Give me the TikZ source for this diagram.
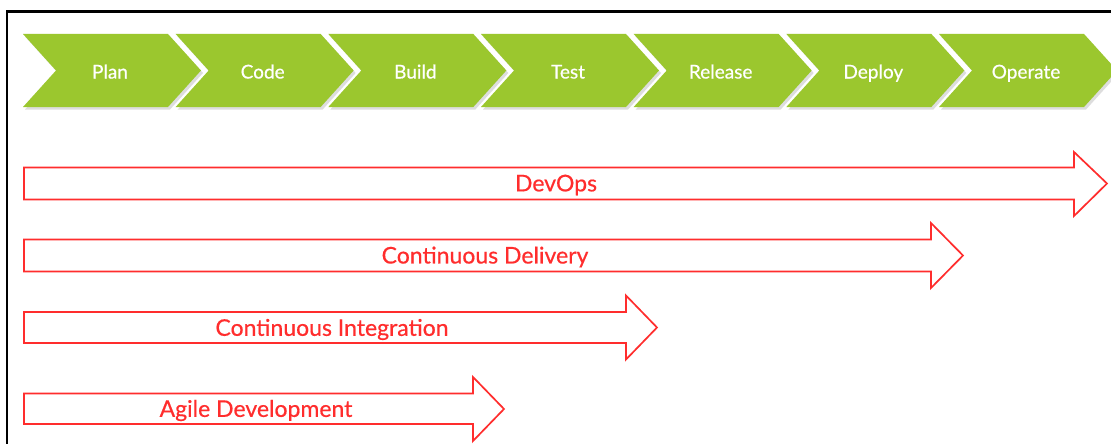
\documentclass[tikz,border=0pt]{standalone}
\usepackage{fontspec}
\setmainfont{Lato}
\newfontfamily\labelfont{Lato}[FakeBold=0.5]
\usetikzlibrary{shadows}
\definecolor{stagegreen}{RGB}{155,199,46}
\definecolor{scopered}{RGB}{255,45,45}
\tikzset{
  stage/.style={fill=stagegreen, draw=none,
    drop shadow={shadow xshift=2pt, shadow yshift=-2.5pt, opacity=0.22, fill=black!60}},
  stagelabel/.style={text=white, font=\labelfont\fontsize{19}{19}\selectfont, inner sep=0pt, anchor=base},
  scope arrow/.style={draw=scopered, line width=1.7pt, fill=white, line join=miter},
  scopelabel/.style={text=scopered, font=\labelfont\fontsize{23}{23}\selectfont, inner sep=0pt},
  frameline/.style={draw=black, line width=2.2pt}
}
\begin{document}
\begin{tikzpicture}[x=1pt, y=-1pt]
  \useasboundingbox (0,0) rectangle (1111,444);
  \fill[white] (0,0) rectangle (1111,444);
  % frame
  \draw[frameline] (7,444) -- (7,11.5) -- (1112,11.5);

  % pipeline stages
  \foreach \name [count=\i from 0] in {Plan,Code,Build,Test,Release,Deploy,Operate} {
    \pgfmathsetmacro{\xo}{23+152.67*\i}
    \path[stage] (\xo,34) -- ++(145,0) -- ++(33,36.5) -- ++(-33,36.5) -- ++(-145,0) -- ++(33,-36.5) -- cycle;
    \node[stagelabel] (stage\i) at (\xo+87,78.5) {\name};
  }

  % scope arrows: body top, body bottom, shoulder x, tip x
  \path[scope arrow] (24,167.5) -- (1074,167.5) -- (1074,152) -- (1107,183.5) -- (1074,216) -- (1074,199.5) -- (24,199.5) -- cycle;
  \node[scopelabel] (devops) at (556,185) {DevOps};

  \path[scope arrow] (24,239.5) -- (931,239.5) -- (931,223) -- (963,255.5) -- (931,288) -- (931,271.5) -- (24,271.5) -- cycle;
  \node[scopelabel] (cd) at (485,257) {Continuous Delivery};

  \path[scope arrow] (24,312) -- (626,312) -- (626,295.5) -- (657,327.5) -- (626,359.5) -- (626,343) -- (24,343) -- cycle;
  \node[scopelabel] (ci) at (332,329.5) {Continuous Integration};

  \path[scope arrow] (24,393.5) -- (473,393.5) -- (473,377) -- (504,409) -- (473,441) -- (473,424) -- (24,424) -- cycle;
  \node[scopelabel] (agile) at (256,410.5) {Agile Development};
\end{tikzpicture}
\end{document}
